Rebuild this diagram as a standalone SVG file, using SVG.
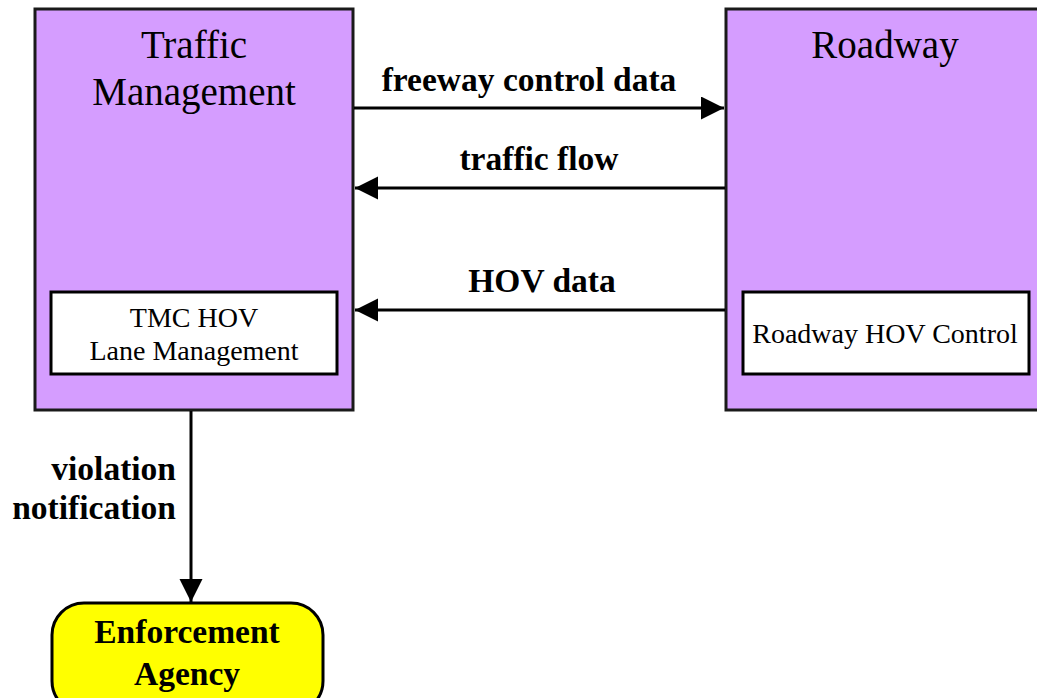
<svg xmlns="http://www.w3.org/2000/svg" width="1037" height="698" viewBox="0 0 1037 698">
<style>
.box{fill:#D59DFF;stroke:#1a1a1a;stroke-width:3}
.inner{fill:#FFFFFF;stroke:#000;stroke-width:3}
.title{font-family:"Liberation Serif","Times New Roman",serif;font-size:39px;fill:#000;text-anchor:middle}
.sub{font-family:"Liberation Serif","Times New Roman",serif;font-size:28px;fill:#000;text-anchor:middle}
.lbl{font-family:"Liberation Serif","Times New Roman",serif;font-size:33.5px;font-weight:bold;fill:#000;text-anchor:middle}
.line{stroke:#000;stroke-width:3;fill:none}
</style>
<defs>
<marker id="arr" markerUnits="userSpaceOnUse" markerWidth="24" markerHeight="24" refX="23" refY="11.5" orient="auto">
<path d="M0,0 L23,11.5 L0,23 Z" fill="#000"/>
</marker>
</defs>
<g id="traffic-management">
<rect class="box" x="35" y="9" width="318" height="401"/>
<text class="title" x="194" y="58">Traffic</text>
<text class="title" x="194" y="105">Management</text>
<rect class="inner" x="51" y="292" width="286" height="82"/>
<text class="sub" x="194" y="327">TMC HOV</text>
<text class="sub" x="194" y="360">Lane Management</text>
</g>
<g id="roadway">
<rect class="box" x="726" y="9" width="320" height="401"/>
<text class="title" x="885" y="58">Roadway</text>
<rect class="inner" x="743" y="292" width="286" height="82"/>
<text class="sub" x="885" y="343">Roadway HOV Control</text>
</g>
<g id="enforcement-agency">
<rect x="52" y="603" width="271" height="110" rx="32" ry="32" fill="#FFFF00" stroke="#000" stroke-width="3"/>
<text class="lbl" x="187" y="643">Enforcement</text>
<text class="lbl" x="187" y="685">Agency</text>
</g>
<g id="connectors">
<line class="line" x1="354" y1="108" x2="724" y2="108" marker-end="url(#arr)"/>
<text class="lbl" x="529" y="91">freeway control data</text>
<line class="line" x1="725" y1="188" x2="355" y2="188" marker-end="url(#arr)"/>
<text class="lbl" x="539" y="170">traffic flow</text>
<line class="line" x1="725" y1="310" x2="355" y2="310" marker-end="url(#arr)"/>
<text class="lbl" x="542" y="292">HOV data</text>
<line class="line" x1="191" y1="411" x2="191" y2="602" marker-end="url(#arr)"/>
<text class="lbl" x="176" y="480" style="text-anchor:end">violation</text>
<text class="lbl" x="176" y="519" style="text-anchor:end">notification</text>
</g>
</svg>
